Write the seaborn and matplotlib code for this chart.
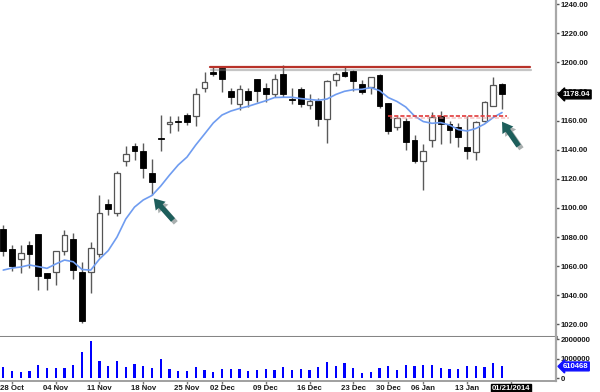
import numpy as np
import pandas as pd
import matplotlib
matplotlib.use("Agg")
import matplotlib.pyplot as plt
import matplotlib.transforms as mtrans
import matplotlib.patheffects as pe
import seaborn as sns

# ---- data (trading days 25 Oct 2013 .. 17 Jan 2014, index 0..57) ----
opens = [1085.5, 1071.8, 1064.7, 1074.5, 1081.9, 1055.5, 1056.2, 1070.4, 1078.4, 1056.2,
         1055.7, 1068.3, 1102.7, 1096.7, 1132.5, 1142.8, 1139.1, 1124.2, 1147.9, 1157.7,
         1159.8, 1163.9, 1163.2, 1182.7, 1193.8, 1196.0, 1180.6, 1171.5, 1180.4, 1188.4,
         1182.7, 1178.1, 1192.1, 1174.9, 1181.8, 1170.8, 1173.5, 1160.9, 1188.0, 1193.8,
         1194.4, 1185.2, 1183.4, 1191.4, 1171.9, 1155.9, 1159.8, 1146.7, 1132.3, 1146.7,
         1163.2, 1157.5, 1155.9, 1141.7, 1138.7, 1160.0, 1170.3, 1185.0]
highs = [1088.3, 1074.5, 1074.5, 1077.3, 1082.0, 1055.5, 1070.6, 1084.8, 1082.8, 1062.8,
         1076.6, 1108.9, 1105.9, 1125.4, 1142.6, 1144.4, 1144.9, 1133.4, 1163.9, 1163.2,
         1163.2, 1165.1, 1182.7, 1193.7, 1197.6, 1196.5, 1182.3, 1184.5, 1182.3, 1188.6,
         1185.7, 1191.9, 1198.3, 1182.7, 1183.4, 1178.3, 1175.4, 1187.7, 1193.7, 1196.7,
         1194.6, 1188.0, 1190.2, 1192.1, 1172.1, 1163.2, 1161.6, 1150.1, 1143.8, 1166.2,
         1166.9, 1159.8, 1158.2, 1163.2, 1159.8, 1173.7, 1190.2, 1186.1]
lows = [1067.0, 1056.6, 1055.3, 1058.7, 1043.6, 1043.6, 1047.0, 1067.6, 1050.9, 1020.7,
        1041.5, 1066.5, 1095.1, 1094.5, 1128.8, 1133.0, 1120.8, 1108.9, 1139.4, 1151.3,
        1152.9, 1157.0, 1156.5, 1179.5, 1190.7, 1179.5, 1171.3, 1167.3, 1169.6, 1173.0,
        1173.0, 1176.5, 1176.5, 1171.3, 1169.6, 1167.8, 1156.3, 1144.9, 1184.0, 1189.8,
        1180.4, 1178.3, 1178.3, 1168.5, 1150.8, 1153.6, 1139.8, 1131.1, 1112.3, 1141.7,
        1144.2, 1144.4, 1142.1, 1133.4, 1133.0, 1159.3, 1170.3, 1167.8]
closes = [1070.4, 1060.1, 1068.8, 1068.3, 1053.4, 1052.0, 1070.4, 1081.4, 1057.3, 1022.3,
          1072.2, 1096.3, 1099.3, 1123.8, 1136.9, 1139.1, 1127.7, 1118.0, 1147.2, 1159.1,
          1158.9, 1158.9, 1178.1, 1186.8, 1192.4, 1188.6, 1176.5, 1181.6, 1174.2, 1180.4,
          1178.5, 1188.4, 1178.1, 1174.2, 1171.3, 1173.7, 1160.9, 1187.5, 1191.9, 1190.9,
          1187.3, 1179.5, 1189.8, 1170.3, 1152.9, 1161.6, 1145.5, 1132.3, 1139.1, 1162.7,
          1157.7, 1153.6, 1148.6, 1139.4, 1158.9, 1172.6, 1184.5, 1178.04]
moving_avg = [1057.3, 1058.7, 1059.4, 1060.8, 1059.7, 1058.5, 1061.5, 1064.2, 1063.0, 1057.7,
              1057.3, 1064.9, 1070.7, 1080.0, 1092.4, 1100.6, 1105.5, 1108.6, 1115.1, 1122.6,
              1129.6, 1135.0, 1143.3, 1150.8, 1158.4, 1163.9, 1166.6, 1168.4, 1169.9, 1171.8,
              1173.7, 1175.9, 1176.1, 1176.1, 1175.2, 1174.6, 1174.0, 1174.9, 1178.0, 1180.2,
              1181.3, 1181.6, 1182.7, 1180.7, 1175.9, 1173.2, 1169.4, 1163.2, 1159.4, 1158.2,
              1158.7, 1157.0, 1153.9, 1152.9, 1154.6, 1157.7, 1162.2, 1165.6]
volume = [590000, 390000, 310000, 370000, 680000, 550000, 550000, 510000, 700000, 1330000,
          1910000, 890000, 650000, 890000, 590000, 730000, 630000, 550000, 970000, 480000,
          390000, 370000, 580000, 430000, 340000, 460000, 480000, 460000, 370000, 430000,
          480000, 430000, 580000, 430000, 480000, 430000, 590000, 850000, 630000, 790000,
          510000, 270000, 320000, 510000, 650000, 430000, 670000, 630000, 680000, 680000,
          510000, 480000, 480000, 630000, 630000, 580000, 800000, 610468]

tick_idx = [1, 6, 11, 16, 21, 25, 30, 35, 40, 44, 48, 53, 58]
tick_labels = ["28 Oct", "04 Nov", "11 Nov", "18 Nov", "25 Nov", "02 Dec", "09 Dec",
               "16 Dec", "23 Dec", "30 Dec", "06 Jan", "13 Jan", "01/21/2014"]
price_ticks = [1020, 1040, 1060, 1080, 1100, 1120, 1140, 1160, 1180, 1200, 1220, 1240]
vol_ticks = [0, 1000000, 2000000]
last_price = 1178.04
last_volume = 610468
resistance_level = 1196.7
resistance_span = [23.6, 60.2]
support_level = 1163.2
support_span = [44.0, 57.6]
arrow1 = [(17.2, 1106.6), (19.4, 1091.7)]   # (tip, tail)
arrow2 = [(57.0, 1159.3), (58.9, 1142.6)]

# ---- style ----
sns.set_style("white")
plt.rcParams["font.family"] = ["Liberation Sans", "DejaVu Sans"]
plt.rcParams["font.weight"] = "bold"

df = pd.DataFrame({"idx": np.arange(len(closes)), "open": opens, "high": highs,
                   "low": lows, "close": closes, "ma": moving_avg, "volume": volume})

fig = plt.figure(figsize=(6, 3.92), dpi=100)
W, H = 600.0, 392.0
axp = fig.add_axes([0, 1 - 337 / H, 556 / W, 337 / H])
axv = fig.add_axes([0, 1 - 381 / H, 556 / W, 44 / H])

xlim = (-0.371, 63.17)
txt = "#1a1a1a"
fs = 5.6

# candles
up = df["close"] >= df["open"]
axp.vlines(df["idx"], df["low"], df["high"], color="#5a5a5a", lw=1.0, zorder=2)
body_bottom = np.minimum(df["open"], df["close"])
body_h = np.maximum((df["close"] - df["open"]).abs(), 0.7)
axp.bar(df["idx"][up], body_h[up], bottom=body_bottom[up], width=0.66,
        color="white", edgecolor="#555555", linewidth=0.9, zorder=3)
axp.bar(df["idx"][~up], body_h[~up], bottom=body_bottom[~up], width=0.66,
        color="black", edgecolor="black", linewidth=0.6, zorder=3)

# moving average
sns.lineplot(data=df, x="idx", y="ma", ax=axp, color="#6f9cf0", linewidth=1.2, zorder=4)

# resistance / support lines
axp.plot(resistance_span, [resistance_level] * 2, color="#b8322a", lw=1.6, zorder=5,
         path_effects=[pe.SimpleLineShadow(offset=(1, -2), shadow_color="gray", alpha=0.45),
                       pe.Normal()])
axp.plot(support_span, [support_level] * 2, color="#e23a3a", lw=1.2, ls=(0, (2.5, 1.2)), zorder=5,
         path_effects=[pe.SimpleLineShadow(offset=(1, -1.5), shadow_color="#f0a0a0", alpha=0.6),
                       pe.Normal()])

# arrows
for tip, tail in (arrow1, arrow2):
    axp.annotate("", xy=tip, xytext=tail,
                 arrowprops=dict(arrowstyle="simple,head_length=0.75,head_width=0.95,tail_width=0.38",
                                 fc="#1d5e5b", ec="none", shrinkA=0, shrinkB=0,
                                 path_effects=[pe.SimplePatchShadow(offset=(2, -2), alpha=0.35),
                                               pe.Normal()]),
                 zorder=6)

axp.set_xlim(*xlim)
axp.set_ylim(1011.3, 1242.96)
axp.set_xticks([])
axp.set_xlabel("")
axp.set_ylabel("")
axp.yaxis.tick_right()
axp.set_yticks(price_ticks)
axp.set_yticklabels([f"{v:.2f}" for v in price_ticks])
axp.tick_params(axis="y", length=2, width=1, color="#555555", pad=1.5,
                labelsize=fs, labelcolor=txt, right=True, left=False)
for s in ("left", "top"):
    axp.spines[s].set_visible(False)
axp.spines["right"].set_color("#a8a8a8")
axp.spines["right"].set_linewidth(1.6)
axp.spines["bottom"].set_color("#858585")
axp.spines["bottom"].set_linewidth(2.2)

# price tag
tr = mtrans.blended_transform_factory(axp.transAxes, axp.transData)
axp.text(1.012, last_price, f"{last_price:.2f}", transform=tr, ha="left", va="center",
         color="white", fontsize=fs, fontweight="bold", zorder=10, clip_on=False,
         bbox=dict(boxstyle="larrow,pad=0.12", fc="black", ec="black"))

# volume
sns.barplot(data=df, x="idx", y="volume", native_scale=True, width=0.27, color="#0000ff",
            saturation=1, linewidth=0, ax=axv)
axv.set_xlim(*xlim)
axv.set_ylim(-138000, 2118000)
axv.set_xlabel("")
axv.set_ylabel("")
axv.yaxis.tick_right()
axv.set_yticks(vol_ticks)
axv.set_yticklabels([str(v) for v in vol_ticks])
axv.tick_params(axis="y", length=2, width=1, color="#555555", pad=1.5,
                labelsize=fs, labelcolor=txt, right=True, left=False)
axv.set_xticks(tick_idx)
axv.set_xticklabels(tick_labels)
axv.tick_params(axis="x", length=2, width=1, color="#777777", pad=1,
                labelsize=fs, labelcolor=txt, bottom=True)
for s in ("left", "top"):
    axv.spines[s].set_visible(False)
axv.spines["right"].set_color("#a8a8a8")
axv.spines["right"].set_linewidth(1.6)
axv.spines["bottom"].set_color("#a0a0a0")
axv.spines["bottom"].set_linewidth(1.4)
last_lbl = axv.get_xticklabels()[-1]
last_lbl.set_color("white")
last_lbl.set_bbox(dict(fc="black", ec="black", pad=0.6))

trv = mtrans.blended_transform_factory(axv.transAxes, axv.transData)
axv.text(1.012, last_volume, str(last_volume), transform=trv, ha="left", va="center",
         color="white", fontsize=fs, fontweight="bold", zorder=10, clip_on=False,
         bbox=dict(boxstyle="larrow,pad=0.12", fc="#1010ff", ec="#1010ff"))

fig.savefig("out.png", dpi=100)
